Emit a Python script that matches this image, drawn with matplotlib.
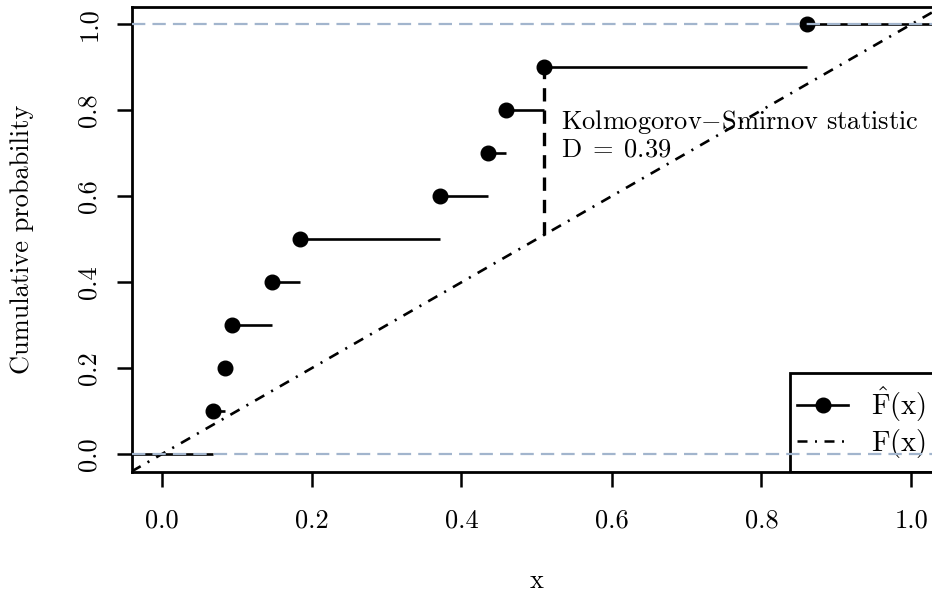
import numpy as np
import matplotlib.pyplot as plt
from matplotlib.lines import Line2D
from matplotlib.patches import Rectangle

plt.rcParams['font.family'] = 'serif'
plt.rcParams['font.serif'] = ['cmr10']
plt.rcParams['mathtext.fontset'] = 'cm'
plt.rcParams['axes.formatter.use_mathtext'] = True

# sorted sample and its empirical CDF levels
x_obs = [0.069, 0.084, 0.094, 0.147, 0.184, 0.372, 0.435, 0.460, 0.51, 0.861]
ecdf = [0.1, 0.2, 0.3, 0.4, 0.5, 0.6, 0.7, 0.8, 0.9, 1.0]

# KS statistic: biggest gap between ECDF and F(x) = x
ks_idx = 8
ks_d = 0.39

xticks = [0.0, 0.2, 0.4, 0.6, 0.8, 1.0]
yticks = [0.0, 0.2, 0.4, 0.6, 0.8, 1.0]
xlim = (-0.04, 1.04)
ylim = (-0.04, 1.04)

fs = 19
dotdash = (0, (4, 3, 0.8, 3))

fig = plt.figure(figsize=(9.32, 6.0), dpi=100)
ax = fig.add_axes([131.5/932, 128.5/600, 810/932, 464.5/600])
ax.set_xlim(xlim)
ax.set_ylim(ylim)

# step segments of the ECDF, left tail at 0 and right tail at 1
ax.plot([xlim[0], x_obs[0]], [0, 0], color='black', lw=1.9, solid_capstyle='butt')
for i in range(len(x_obs)):
    x_end = x_obs[i + 1] if i + 1 < len(x_obs) else xlim[1]
    ax.plot([x_obs[i], x_end], [ecdf[i], ecdf[i]], color='black', lw=1.9,
            solid_capstyle='butt')
ax.plot(x_obs, ecdf, 'o', color='black', ms=10.5, zorder=4)

# theoretical uniform CDF
ax.axline((0, 0), (1, 1), color='black', lw=1.9, linestyle=dotdash)

# reference lines at 0 and 1
for h in [0, 1]:
    ax.axhline(h, color='#A2B5CD', lw=1.6, linestyle=(0, (6, 3.2)), zorder=5)

# vertical gap marking D
xd = x_obs[ks_idx]
ax.plot([xd, xd], [ecdf[ks_idx] - ks_d, ecdf[ks_idx]], color='black', lw=2.4,
        linestyle=(0, (4, 2.7)))
ax.text(xd + 0.023, 0.805, 'Kolmogorov$-$Smirnov statistic\n$\\mathrm{D}\\;=\\;%.2f$' % ks_d,
        ha='left', va='top', fontsize=fs, linespacing=1.1)

ax.set_xticks(xticks)
ax.set_xticklabels(['%.1f' % t for t in xticks])
ax.set_yticks(yticks)
ax.set_yticklabels(['%.1f' % t for t in yticks], rotation=90, va='center')
ax.tick_params(axis='both', labelsize=fs, length=11, width=1.8)
ax.tick_params(axis='x', pad=16)
ax.tick_params(axis='y', pad=11)
for s in ax.spines.values():
    s.set_linewidth(2.0)
ax.spines['right'].set_visible(False)

ax.set_xlabel('x', fontsize=fs, labelpad=26)
ax.set_ylabel('Cumulative probability', fontsize=fs, labelpad=31)

# legend box runs off the right edge
leg_x, leg_h = 0.8127, 0.2124
ax.add_patch(Rectangle((leg_x, 0), 0.3, leg_h, transform=ax.transAxes,
                       fill=False, ec='black', lw=2.0, zorder=3))
handles = [
    Line2D([], [], color='black', lw=1.9, marker='o', ms=10.5),
    Line2D([], [], color='black', lw=1.8, linestyle=dotdash),
]
labels = [r'$\hat{\mathrm{F}}(\mathrm{x})$', r'$\mathrm{F}(\mathrm{x})$']
leg = ax.legend(handles, labels, loc='center left', bbox_to_anchor=(leg_x, leg_h / 2),
                borderaxespad=0, fontsize=20.5, handlelength=1.8, handletextpad=0.8,
                borderpad=0.25, labelspacing=0.1, frameon=False)
leg.set_zorder(3)

fig.savefig('out.png', dpi=100)
